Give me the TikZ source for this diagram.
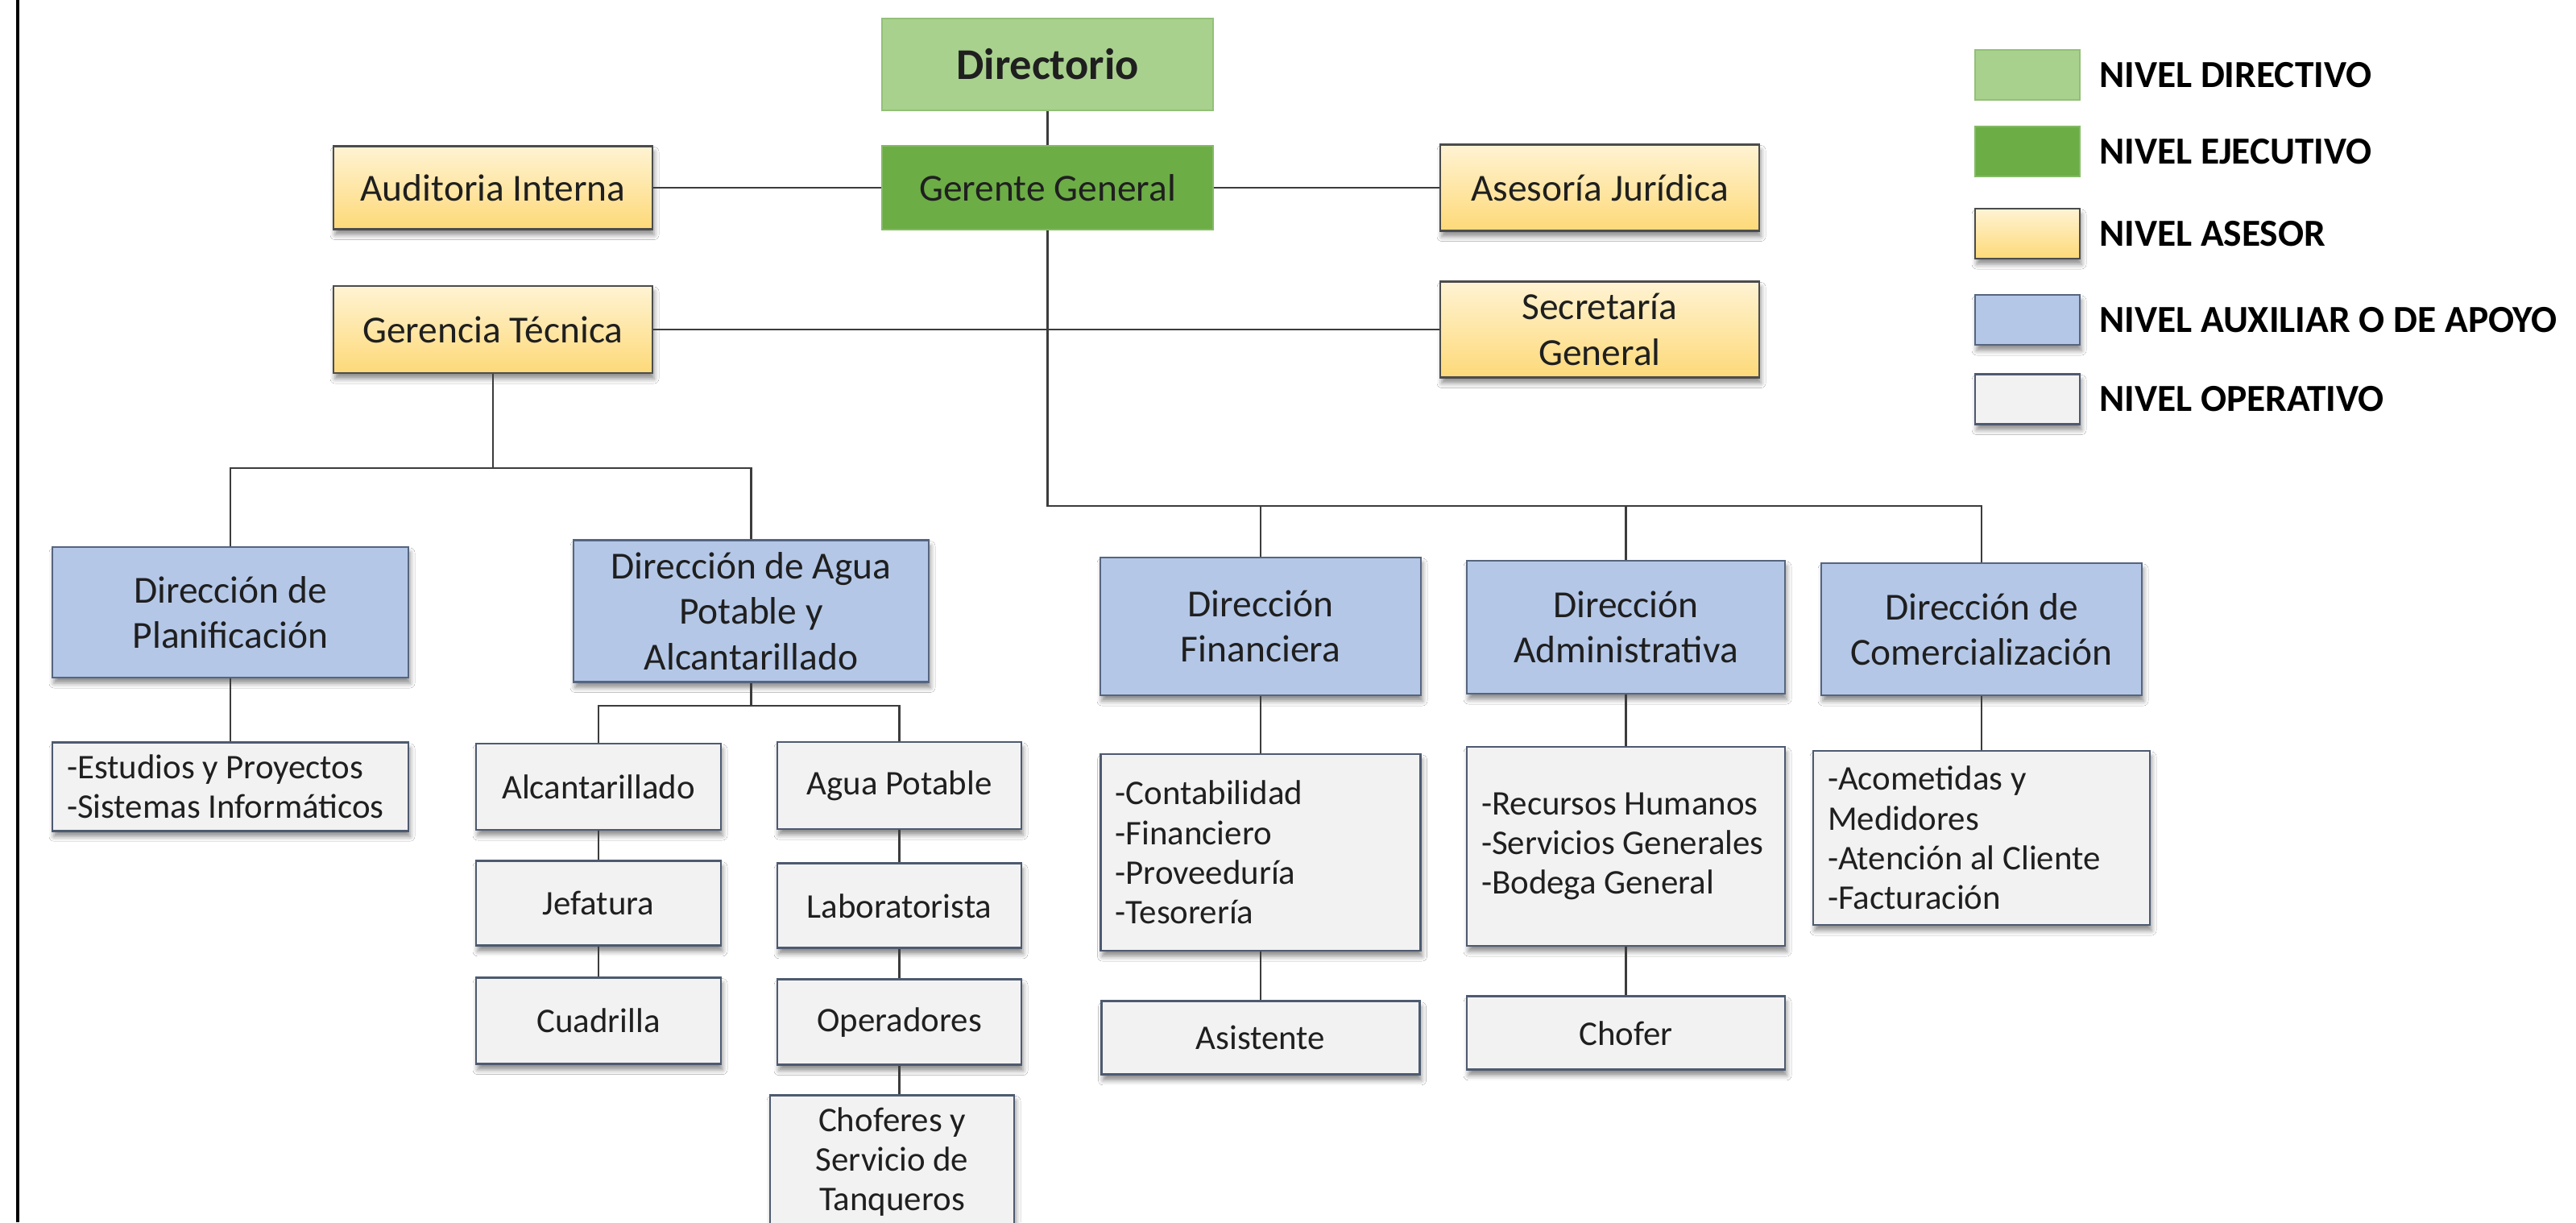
\documentclass[tikz,border=0pt]{standalone}
\usepackage{fontspec}
\setmainfont{Carlito}
\usepackage{xcolor}
\usepackage{tikz}
\usetikzlibrary{shadows.blur}
\usetikzlibrary{positioning}

\definecolor{verdeclaro}{HTML}{A9D18E}
\definecolor{verdeclaroborde}{HTML}{93C077}
\definecolor{verde}{HTML}{6CAD46}
\definecolor{verdeborde}{HTML}{84BA66}
\definecolor{amarillosup}{HTML}{FFF3D3}
\definecolor{amarilloinf}{HTML}{FDD978}
\definecolor{azul}{HTML}{B4C7E7}
\definecolor{azulborde}{HTML}{56657F}
\definecolor{gris}{HTML}{F2F2F2}
\definecolor{grisborde}{HTML}{4D5A70}
\definecolor{linea}{HTML}{3C3C3C}

\tikzset{
    caja/.style={rectangle, line width=0.8pt, inner sep=0.15cm, align=center,
        text=black!88, font=\fontsize{13.5pt}{16pt}\selectfont},
    dim/.style 2 args={minimum width=#1, minimum height=#2},
    sombra/.style={blur shadow={shadow xshift=0.02cm, shadow yshift=-0.07cm,
        shadow blur radius=0.06cm, shadow opacity=45}},
    directivo/.style={caja, fill=verdeclaro, draw=verdeclaroborde,
        font=\fontsize{15.5pt}{18pt}\selectfont\bfseries},
    ejecutivo/.style={caja, fill=verde, draw=verdeborde},
    asesor/.style={caja, sombra, top color=amarillosup, bottom color=amarilloinf, draw=black!70},
    auxiliar/.style={caja, sombra, fill=azul, draw=azulborde},
    operativo/.style={caja, sombra, fill=gris, draw=grisborde, font=\fontsize{12.2pt}{14pt}\selectfont},
    lista/.style={operativo, align=flush left, inner xsep=0.18cm, text width=#1},
    link/.style={draw=linea, line width=0.8pt},
    leyenda/.style={anchor=west, inner sep=0pt, text=black,
        font=\fontsize{13.5pt}{16pt}\selectfont\bfseries}
}

\begin{document}
\begin{tikzpicture}
    \useasboundingbox [fill=white] (0,0) rectangle (31.98,-15.17);
    \draw [line width=1.2pt] (0.22,0) -- (0.22,-15.17);

    % nivel directivo, ejecutivo y asesor
    \node (dir) [directivo, dim={4.11cm}{1.14cm}] at (13.005,-0.80) {Directorio};
    \node (ger) [ejecutivo, dim={4.11cm}{1.04cm}] at (13.005,-2.33) {Gerente General};
    \node (aud) [asesor, dim={3.96cm}{1.03cm}] at (6.12,-2.33) {Auditoria Interna};
    \node (ase) [asesor, dim={3.96cm}{1.07cm}] at (19.86,-2.33) {Asesoría Jurídica};
    \node (gt) [asesor, dim={3.96cm}{1.08cm}] at (6.12,-4.09) {Gerencia Técnica};
    \node (sec) [asesor, dim={3.96cm}{1.09cm}] at (19.86,-4.09) {Secretaría\\General};

    % direcciones
    \node (plan) [auxiliar, dim={4.42cm}{1.62cm}] at (2.86,-7.60) {Dirección de\\Planificación};
    \node (agua) [auxiliar, dim={4.41cm}{1.63cm}] at (9.325,-7.585) {Dirección de Agua\\Potable y\\Alcantarillado};
    \node (fin) [auxiliar, dim={3.98cm}{1.71cm}] at (15.65,-7.775) {Dirección\\Financiera};
    \node (adm) [auxiliar, dim={3.95cm}{1.65cm}] at (20.185,-7.785) {Dirección\\Administrativa};
    \node (com) [auxiliar, dim={3.98cm}{1.64cm}] at (24.60,-7.81) {Dirección de\\Comercialización};

    % nivel operativo
    \node (est) [lista=4.06cm, minimum height=1.07cm] at (2.86,-9.765)
        {-Estudios~y~Proyectos\\-Sistemas~Informáticos};
    \node (alc) [operativo, dim={3.04cm}{1.07cm}] at (7.43,-9.765) {Alcantarillado};
    \node (jef) [operativo, dim={3.04cm}{1.05cm}, below=0.36cm of alc] {Jefatura};
    \node (cua) [operativo, dim={3.04cm}{1.07cm}, below=0.37cm of jef] {Cuadrilla};
    \node (ap) [operativo, dim={3.03cm}{1.08cm}] at (11.165,-9.75) {Agua Potable};
    \node (lab) [operativo, dim={3.03cm}{1.05cm}, below=0.40cm of ap] {Laboratorista};
    \node (ope) [operativo, dim={3.03cm}{1.06cm}, below=0.36cm of lab] {Operadores};
    \node (cho) [operativo, dim={3.03cm}{1.61cm}, below=0.35cm of ope, xshift=-0.09cm]
        {Choferes y\\Servicio de\\Tanqueros};
    \node (finsub) [lista=3.61cm, minimum height=2.44cm] at (15.65,-10.58)
        {-Contabilidad\\-Financiero\\-Proveeduría\\-Tesorería};
    \node (asi) [operativo, dim={3.95cm}{0.91cm}, below=0.60cm of finsub] {Asistente};
    \node (admsub) [lista=3.59cm, minimum height=2.47cm] at (20.185,-10.505)
        {-Recursos~Humanos\\-Servicios~Generales\\-Bodega~General};
    \node (chf) [operativo, dim={3.95cm}{0.91cm}, below=0.60cm of admsub] {Chofer};
    \node (comsub) [lista=3.82cm, minimum height=2.16cm] at (24.60,-10.40)
        {-Acometidas~y\\Medidores\\-Atención~al~Cliente\\-Facturación};

    % leyenda
    \node (leg1) [directivo, dim={1.30cm}{0.62cm}] at (25.17,-0.93) {};
    \node (leg2) [ejecutivo, dim={1.30cm}{0.62cm}] at (25.17,-1.88) {};
    \node (leg3) [asesor, dim={1.30cm}{0.62cm}] at (25.17,-2.90) {};
    \node (leg4) [auxiliar, dim={1.30cm}{0.62cm}] at (25.17,-3.97) {};
    \node (leg5) [operativo, dim={1.30cm}{0.62cm}] at (25.17,-4.955) {};
    \node (t1) [leyenda, right=0.22cm of leg1] {NIVEL DIRECTIVO};
    \node (t2) [leyenda, right=0.22cm of leg2] {NIVEL EJECUTIVO};
    \node (t3) [leyenda, right=0.22cm of leg3] {NIVEL ASESOR};
    \node (t4) [leyenda, right=0.22cm of leg4] {NIVEL AUXILIAR O DE APOYO};
    \node (t5) [leyenda, right=0.22cm of leg5] {NIVEL OPERATIVO};

    % conectores
    \coordinate (bus) at (13.005,-6.28);
    \coordinate (gtbus) at (6.12,-5.81);
    \coordinate (aguabus) at (9.325,-8.76);
    \draw [link] (dir) -- (ger);
    \draw [link] (aud) -- (ger);
    \draw [link] (ger) -- (ase);
    \draw [link] (gt) -- (sec);
    \draw [link] (ger) -- (bus) -| (com);
    \draw [link] (bus -| fin) -- (fin);
    \draw [link] (bus -| adm) -- (adm);
    \draw [link] (gt) -- (gtbus);
    \draw [link] (plan) |- (gtbus) -| (agua);
    \draw [link] (plan) -- (est);
    \draw [link] (agua) -- (aguabus);
    \draw [link] (alc) |- (aguabus) -| (ap);
    \draw [link] (alc) -- (jef);
    \draw [link] (jef) -- (cua);
    \draw [link] (ap) -- (lab);
    \draw [link] (lab) -- (ope);
    \draw [link] (ope.south) -- (ope.south |- cho.north);
    \draw [link] (fin) -- (finsub);
    \draw [link] (finsub) -- (asi);
    \draw [link] (adm) -- (admsub);
    \draw [link] (admsub) -- (chf);
    \draw [link] (com) -- (comsub);
\end{tikzpicture}
\end{document}
